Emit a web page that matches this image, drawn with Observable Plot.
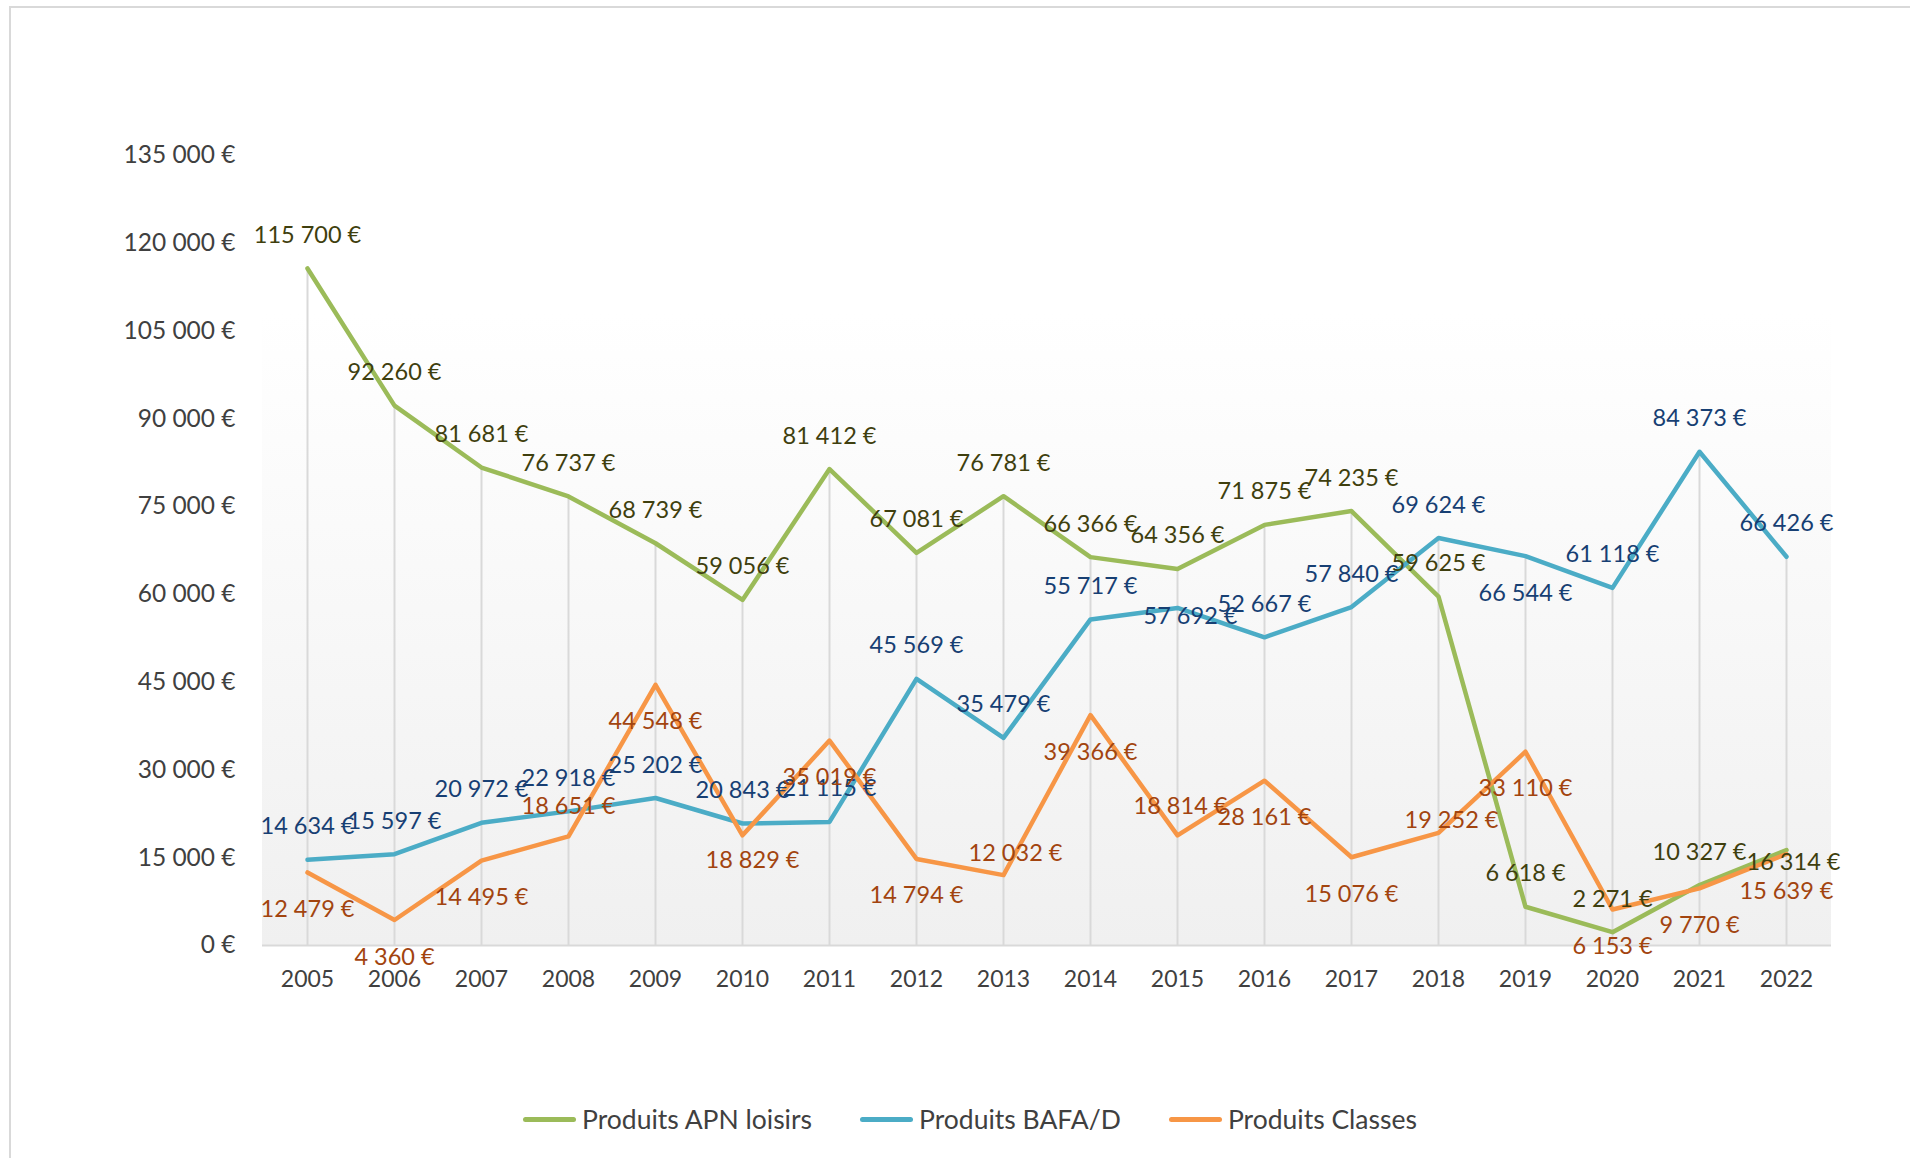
<!DOCTYPE html>
<html><head><meta charset="utf-8">
<script src="https://cdn.jsdelivr.net/npm/d3@7"></script>
<script src="https://cdn.jsdelivr.net/npm/@observablehq/plot@0.6"></script>
<style>
html,body{margin:0;padding:0;background:#fff;font-family:Lato,sans-serif;overflow:hidden;}
#chart{position:absolute;left:0;top:0;}
#frame{position:absolute;left:9px;top:6px;width:1930px;height:1180px;border-left:2px solid #d9d9d9;border-top:2px solid #d9d9d9;pointer-events:none;}
#legend{position:absolute;left:523px;top:1103px;height:32px;display:flex;align-items:center;font-size:26.5px;color:#404040;white-space:nowrap;}
.item{display:flex;align-items:center;margin-right:48px;}
.sw{width:53px;height:5px;border-radius:2.5px;margin-right:6px;}
</style></head><body>
<div id="chart"></div><div id="legend"></div><div id="frame"></div>
<script>
const years = [2005,2006,2007,2008,2009,2010,2011,2012,2013,2014,2015,2016,2017,2018,2019,2020,2021,2022];
const apnLoisirs = [115700,92260,81681,76737,68739,59056,81412,67081,76781,66366,64356,71875,74235,59625,6618,2271,10327,16314];
const bafaD = [14634,15597,20972,22918,25202,20843,21115,45569,35479,55717,57692,52667,57840,69624,66544,61118,84373,66426];
const classes = [12479,4360,14495,18651,44548,18829,35019,14794,12032,39366,18814,28161,15076,19252,33110,6153,9770,15639];
const seriesNames = ["Produits APN loisirs","Produits BAFA/D","Produits Classes"];
const yTicks = [0,15000,30000,45000,60000,75000,90000,105000,120000,135000];

// styles
const lineColors = ["#9BBB59","#4BACC6","#F79646"];
const labelColors = ["#3F3F0E","#173F73","#A2440F"];
const A = [0,-33], B = [0,37];
const labelOffsets = [
  [A,A,A,A,A,A,A,A,A,A,A,A,A,A,A,A,A,[7,12]],
  [A,A,A,A,A,A,A,A,A,A,[13,9],A,A,A,B,A,A,A],
  [B,B,B,[0,-30],B,[10,25],B,B,[12,-22],B,[3,-29],B,B,[13,-12],B,B,B,B]
];

const fmt = v => d3.format(",")(v).replace(/,/g, " ") + " €";
const seriesValues = [apnLoisirs, bafaD, classes];
const rows = [];
seriesValues.forEach((vals, i) => vals.forEach((v, j) => rows.push({series: seriesNames[i], year: years[j], value: v, si: i, j})));
const maxRows = years.map((y, j) => ({year: y, max: Math.max(apnLoisirs[j], bafaD[j], classes[j])}));

const W = 1910, H = 1070;
const background = (index, scales, values, dims) => {
  const g = d3.create("svg:g");
  const defs = g.append("defs");
  const lg = defs.append("linearGradient").attr("id","bgGrad").attr("x1",0).attr("y1",0).attr("x2",0).attr("y2",1);
  lg.append("stop").attr("offset","0%").attr("stop-color","#ffffff");
  lg.append("stop").attr("offset","20%").attr("stop-color","#ffffff");
  lg.append("stop").attr("offset","100%").attr("stop-color","#f0f0f0");
  g.append("rect")
    .attr("x", dims.marginLeft).attr("y", dims.marginTop)
    .attr("width", dims.width - dims.marginLeft - dims.marginRight)
    .attr("height", dims.height - dims.marginTop - dims.marginBottom)
    .attr("fill","url(#bgGrad)");
  return g.node();
};

const labelMarks = rows.map(r => {
  const [dx, dy] = labelOffsets[r.si][r.j];
  return Plot.text([r], {x: "year", y: "value", text: d => fmt(d.value), dx, dy,
    fill: labelColors[r.si], fontSize: 23.5, lineAnchor: "middle", textAnchor: "middle"});
});

const plot = Plot.plot({
  width: W, height: H,
  marginLeft: 262, marginRight: 79, marginTop: 155, marginBottom: H - 945,
  style: {fontFamily: "Lato, sans-serif", color: "#404040", background: "transparent", overflow: "visible"},
  x: {type: "point", domain: years, padding: 0.5},
  y: {domain: [0, 135000]},
  color: {domain: seriesNames, range: lineColors},
  marks: [
    background,
    Plot.ruleX(maxRows, {x: "year", y1: 0, y2: "max", stroke: "#d9d9d9", strokeWidth: 2}),
    Plot.ruleY([0], {stroke: "#d9d9d9", strokeWidth: 2}),
    Plot.axisY({ticks: yTicks, tickFormat: fmt, tickSize: 0, tickPadding: 27, fontSize: 24.5, label: null}),
    Plot.axisX({tickSize: 0, tickPadding: 25, fontSize: 23, label: null, tickFormat: d => String(d)}),
    Plot.line(rows, {x: "year", y: "value", z: "series", stroke: "series", strokeWidth: 4.5, strokeLinejoin: "round", strokeLinecap: "round"}),
    ...labelMarks
  ]
});
document.getElementById("chart").appendChild(plot);

const legend = document.getElementById("legend");
seriesNames.forEach((name, i) => {
  const it = document.createElement("div"); it.className = "item";
  const sw = document.createElement("div"); sw.className = "sw"; sw.style.background = lineColors[i];
  const tx = document.createElement("span"); tx.textContent = name;
  it.appendChild(sw); it.appendChild(tx); legend.appendChild(it);
});
</script>
</body></html>
